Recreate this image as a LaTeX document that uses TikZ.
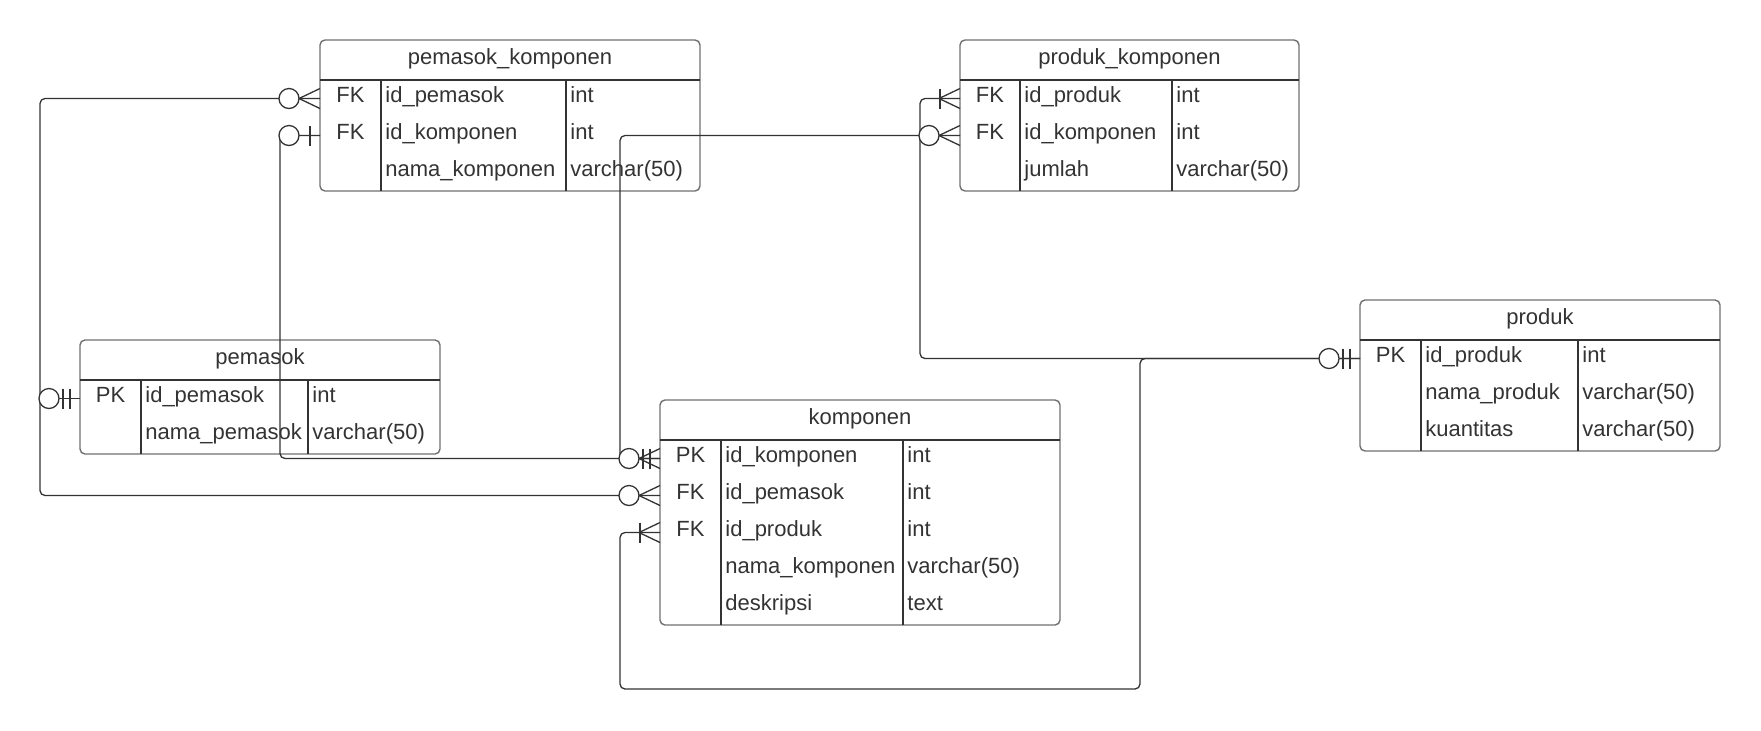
\documentclass[tikz,border=0pt]{standalone}
\usepackage{fontspec}
\setmainfont{Liberation Sans}

\definecolor{erline}{HTML}{333333}
\definecolor{erframe}{HTML}{707070}
\definecolor{ertext}{HTML}{333333}

\tikzset{
	tablebox/.style = {draw=erframe, line width=0.7pt, rounded corners=2.5pt},
	tablerule/.style = {draw=erline, line width=0.6pt},
	fieldtext/.style = {text=ertext, font=\fontsize{11}{13}\selectfont, inner sep=0pt, text height=6.5pt, text depth=2.5pt},
	fieldname/.style = {fieldtext, anchor=west},
	relation/.style = {draw=erline, line width=0.65pt, rounded corners=2.5pt},
	zeromark/.pic = {\draw[erline, line width=0.65pt, fill=white] (-31,0) circle[radius=5pt];},
	crowfoot/.pic = {\draw[erline, line width=0.65pt] (-21,0) -- (0,-10) (-21,0) -- (0,10);},
	onebar/.pic = {\draw[erline, line width=0.65pt] (-10,-10) -- (-10,10);},
	twobar/.pic = {\draw[erline, line width=0.65pt] (-17,-10) -- (-17,10) (-10,-10) -- (-10,10);},
	farbar/.pic = {\draw[erline, line width=0.65pt] (-20,-10) -- (-20,10);}
}

\begin{document}
\begin{tikzpicture}[x=0.5pt, y=-0.5pt]

	\useasboundingbox (0,0) rectangle (1761,730);

	% pemasok_komponen
	\draw[tablebox] (320,40) rectangle (700,191);
	\draw[tablerule] (320,80) -- (700,80) (381,80) -- (381,191) (566,80) -- (566,191);
	\node[fieldtext] (pkp) at (510,60) {pemasok\_komponen};
	\node[fieldtext] (pkp-k1) at (350.5,98.5) {FK};
	\node[fieldname] (pkp-n1) at (385,98.5) {id\_pemasok};
	\node[fieldname] (pkp-t1) at (570,98.5) {int};
	\node[fieldtext] (pkp-k2) at (350.5,135.5) {FK};
	\node[fieldname] (pkp-n2) at (385,135.5) {id\_komponen};
	\node[fieldname] (pkp-t2) at (570,135.5) {int};
	\node[fieldname] (pkp-n3) at (385,172.5) {nama\_komponen};
	\node[fieldname] (pkp-t3) at (570,172.5) {varchar(50)};

	% produk_komponen
	\draw[tablebox] (960,40) rectangle (1299,191);
	\draw[tablerule] (960,80) -- (1299,80) (1020,80) -- (1020,191) (1172,80) -- (1172,191);
	\node[fieldtext] (pdk) at (1129.5,60) {produk\_komponen};
	\node[fieldtext] (pdk-k1) at (990,98.5) {FK};
	\node[fieldname] (pdk-n1) at (1024,98.5) {id\_produk};
	\node[fieldname] (pdk-t1) at (1176,98.5) {int};
	\node[fieldtext] (pdk-k2) at (990,135.5) {FK};
	\node[fieldname] (pdk-n2) at (1024,135.5) {id\_komponen};
	\node[fieldname] (pdk-t2) at (1176,135.5) {int};
	\node[fieldname] (pdk-n3) at (1024,172.5) {jumlah};
	\node[fieldname] (pdk-t3) at (1176,172.5) {varchar(50)};

	% pemasok
	\draw[tablebox] (80,340) rectangle (440,454);
	\draw[tablerule] (80,380) -- (440,380) (141,380) -- (141,454) (308,380) -- (308,454);
	\node[fieldtext] (pms) at (260,360) {pemasok};
	\node[fieldtext] (pms-k1) at (110.5,398.5) {PK};
	\node[fieldname] (pms-n1) at (145,398.5) {id\_pemasok};
	\node[fieldname] (pms-t1) at (312,398.5) {int};
	\node[fieldname] (pms-n2) at (145,435.5) {nama\_pemasok};
	\node[fieldname] (pms-t2) at (312,435.5) {varchar(50)};

	% komponen
	\draw[tablebox] (660,400) rectangle (1060,625);
	\draw[tablerule] (660,440) -- (1060,440) (721,440) -- (721,625) (903,440) -- (903,625);
	\node[fieldtext] (kmp) at (860,420) {komponen};
	\node[fieldtext] (kmp-k1) at (690.5,458.5) {PK};
	\node[fieldname] (kmp-n1) at (725,458.5) {id\_komponen};
	\node[fieldname] (kmp-t1) at (907,458.5) {int};
	\node[fieldtext] (kmp-k2) at (690.5,495.5) {FK};
	\node[fieldname] (kmp-n2) at (725,495.5) {id\_pemasok};
	\node[fieldname] (kmp-t2) at (907,495.5) {int};
	\node[fieldtext] (kmp-k3) at (690.5,532.5) {FK};
	\node[fieldname] (kmp-n3) at (725,532.5) {id\_produk};
	\node[fieldname] (kmp-t3) at (907,532.5) {int};
	\node[fieldname] (kmp-n4) at (725,569.5) {nama\_komponen};
	\node[fieldname] (kmp-t4) at (907,569.5) {varchar(50)};
	\node[fieldname] (kmp-n5) at (725,606.5) {deskripsi};
	\node[fieldname] (kmp-t5) at (907,606.5) {text};

	% produk
	\draw[tablebox] (1360,300) rectangle (1720,451);
	\draw[tablerule] (1360,340) -- (1720,340) (1421,340) -- (1421,451) (1578,340) -- (1578,451);
	\node[fieldtext] (prd) at (1540,320) {produk};
	\node[fieldtext] (prd-k1) at (1390.5,358.5) {PK};
	\node[fieldname] (prd-n1) at (1425,358.5) {id\_produk};
	\node[fieldname] (prd-t1) at (1582,358.5) {int};
	\node[fieldname] (prd-n2) at (1425,395.5) {nama\_produk};
	\node[fieldname] (prd-t2) at (1582,395.5) {varchar(50)};
	\node[fieldname] (prd-n3) at (1425,432.5) {kuantitas};
	\node[fieldname] (prd-t3) at (1582,432.5) {varchar(50)};

	% attach points and bends
	\coordinate (pkp-idpemasok) at (320,98.5);
	\coordinate (pkp-idkomponen) at (320,135.5);
	\coordinate (pdk-idproduk) at (960,98.5);
	\coordinate (pdk-idkomponen) at (960,135.5);
	\coordinate (pms-idpemasok) at (80,398.5);
	\coordinate (kmp-idkomponen) at (660,458.5);
	\coordinate (kmp-idpemasok) at (660,495.5);
	\coordinate (kmp-idproduk) at (660,532.5);
	\coordinate (prd-idproduk) at (1360,358.5);
	\coordinate (leftrail) at (40,495.5);
	\coordinate (innerrail) at (280,458.5);
	\coordinate (midrail) at (620,135.5);
	\coordinate (rightrail) at (920,98.5);
	\coordinate (bottomleft) at (620,689);
	\coordinate (bottomright) at (1140,689);

	% relations
	\draw[relation] (pkp-idpemasok) -| (leftrail) -- (kmp-idpemasok);
	\draw[relation] (pms-idpemasok) -- (pms-idpemasok -| leftrail);
	\draw[relation] (pkp-idkomponen) -| (innerrail) -- (kmp-idkomponen);
	\draw[relation] (kmp-idkomponen) -| (midrail) -- (pdk-idkomponen);
	\draw[relation] (prd-idproduk) -| (rightrail) -- (pdk-idproduk);
	\draw[relation] (kmp-idproduk) -| (bottomleft) -- (bottomright) |- (prd-idproduk);

	% ends
	\pic at (pkp-idpemasok) {zeromark};
	\pic at (pkp-idpemasok) {crowfoot};
	\pic at (pkp-idkomponen) {zeromark};
	\pic at (pkp-idkomponen) {onebar};
	\pic at (pdk-idproduk) {crowfoot};
	\pic at (pdk-idproduk) {farbar};
	\pic at (pdk-idkomponen) {zeromark};
	\pic at (pdk-idkomponen) {crowfoot};
	\pic at (pms-idpemasok) {zeromark};
	\pic at (pms-idpemasok) {twobar};
	\pic at (kmp-idkomponen) {zeromark};
	\pic at (kmp-idkomponen) {twobar};
	\pic at (kmp-idkomponen) {crowfoot};
	\pic at (kmp-idpemasok) {zeromark};
	\pic at (kmp-idpemasok) {crowfoot};
	\pic at (kmp-idproduk) {farbar};
	\pic at (kmp-idproduk) {crowfoot};
	\pic at (prd-idproduk) {zeromark};
	\pic at (prd-idproduk) {twobar};

\end{tikzpicture}
\end{document}
